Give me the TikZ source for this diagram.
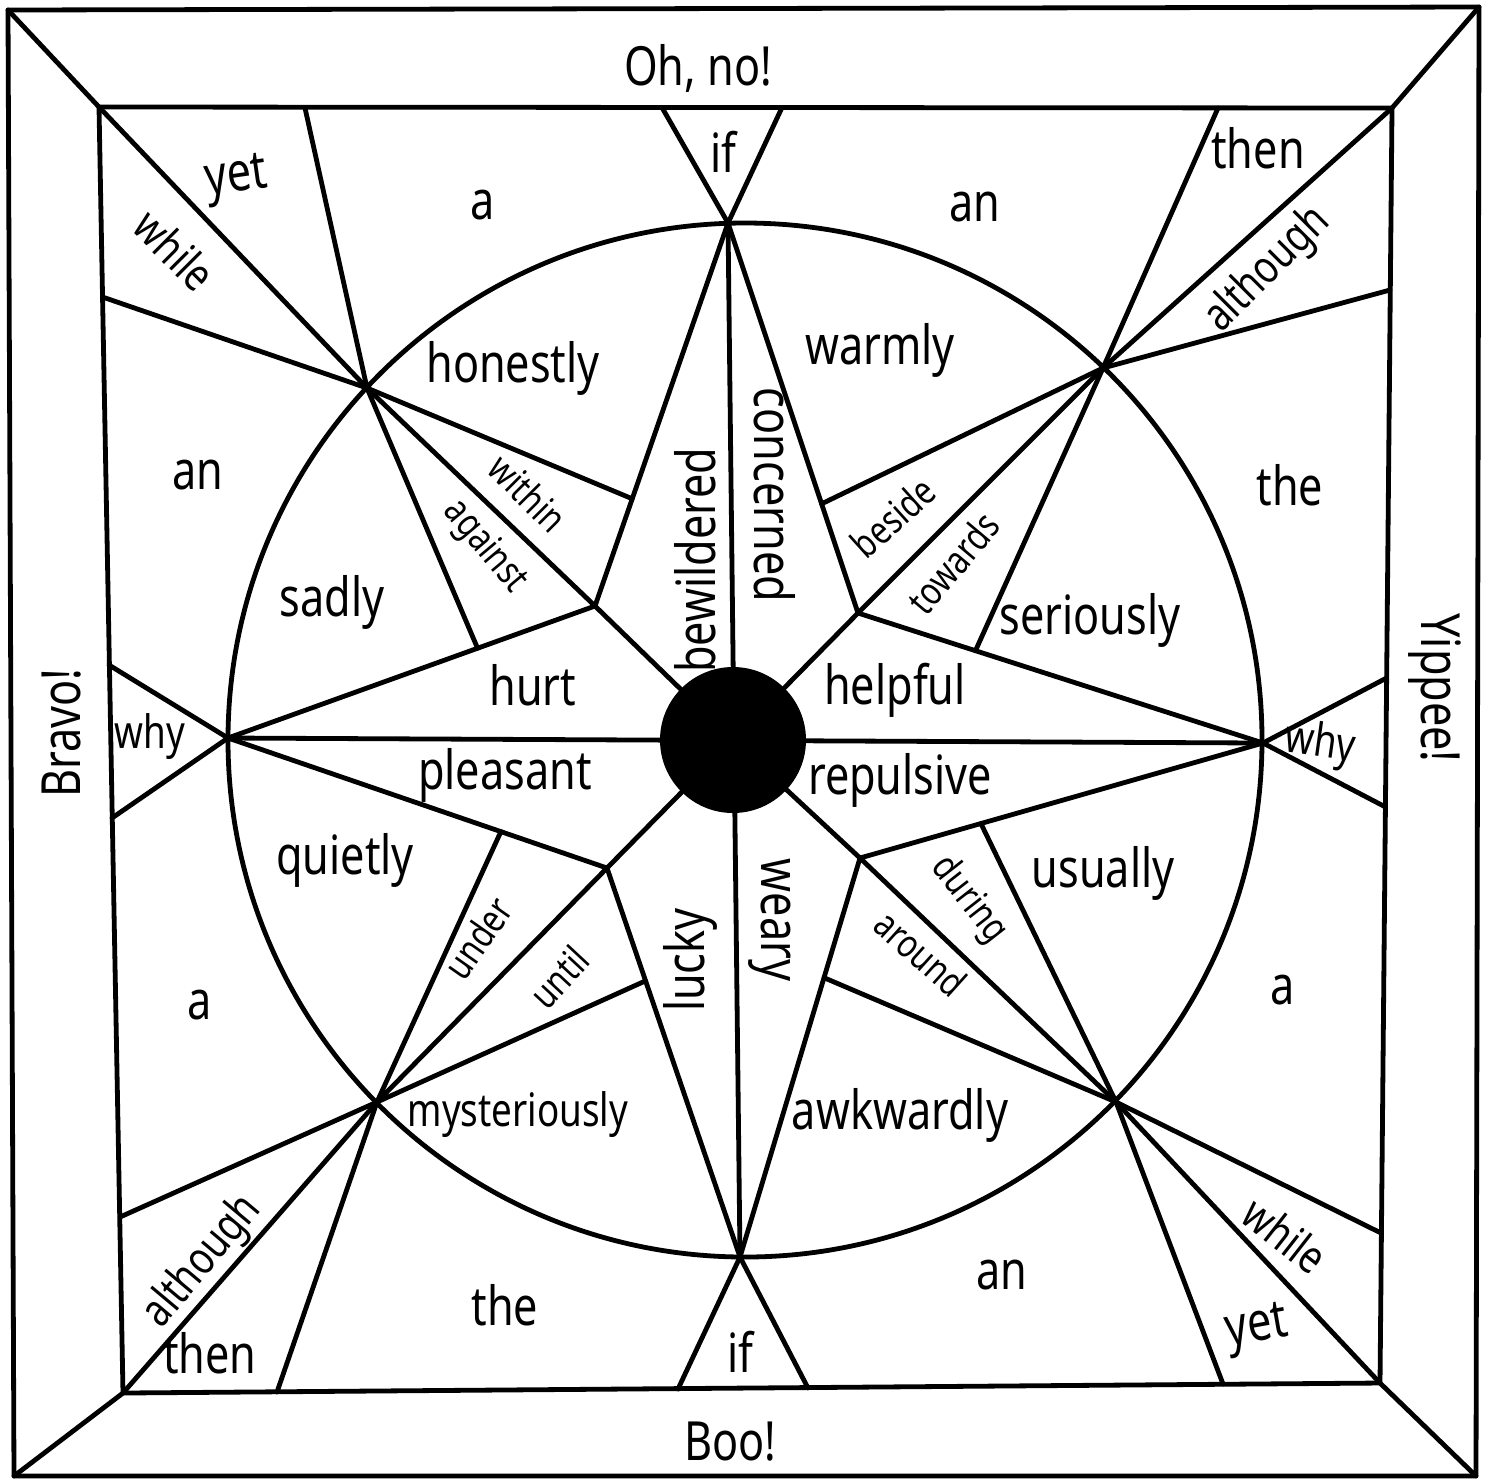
\documentclass[tikz,border=0pt]{standalone}
\usepackage{fontspec}
\usetikzlibrary{calc}
\setmainfont{Noto Sans}[FakeStretch=0.8]
\begin{document}
\begin{tikzpicture}[x=0.5pt,y=-0.5pt, line width=2.4pt, line join=round, line cap=round,
  big/.style={inner sep=0pt, font=\fontsize{27}{30}\selectfont},
  mid/.style={inner sep=0pt, font=\fontsize{23}{26}\selectfont},
  sml/.style={inner sep=0pt, font=\fontsize{19.5}{22}\selectfont}]
\fill[white] (0,0) rectangle (1492,1480);
\useasboundingbox (0,0) rectangle (1492,1480);
% squares
\coordinate (o1) at (8,10);     \coordinate (o2) at (1479,7);
\coordinate (o3) at (1476,1476); \coordinate (o4) at (14,1476);
\coordinate (i1) at (99,107);   \coordinate (i2) at (1392,108);
\coordinate (i3) at (1380,1383); \coordinate (i4) at (123,1393);
% centres
\coordinate (O) at (733,740);
\coordinate (CC) at (745,740);
% star points on the circle
\coordinate (T) at (728,223);   \coordinate (Bm) at (740,1257);
\coordinate (L) at (228,738);   \coordinate (R) at (1263,743);
\coordinate (NW) at (367,388);  \coordinate (NE) at (1103,368);
\coordinate (SE) at (1116,1102); \coordinate (SW) at (377,1102);
% inner vertices
\coordinate (A) at (595,606);   \coordinate (Bv) at (858,613);
\coordinate (C) at (607,868);   \coordinate (D) at (860,858);
% points on the inner square
\coordinate (tA) at (305,108);  \coordinate (tB) at (662,107.5);
\coordinate (tC) at (782,107.5); \coordinate (tD) at (1218,108);
\coordinate (lA) at (102.5,297); \coordinate (lB) at (109,665);
\coordinate (lC) at (112,818);  \coordinate (lD) at (120,1217);
\coordinate (rA) at (1390,290); \coordinate (rB) at (1386.5,678);
\coordinate (rC) at (1385.5,807); \coordinate (rD) at (1381,1233);
\coordinate (bA) at (277,1392); \coordinate (bB) at (678,1389);
\coordinate (bC) at (808,1388); \coordinate (bD) at (1223,1384);

% frames
\draw (o1) -- (o2) -- (o3) -- (o4) -- cycle;
\draw (i1) -- (i2) -- (i3) -- (i4) -- cycle;
\draw (o1) -- (i1); \draw (o2) -- (i2); \draw (o3) -- (i3); \draw (o4) -- (i4);
% big circle
\draw (CC) circle[radius=258.5pt];
% cross through centre
\draw (T) -- (Bm);
\draw (L) -- (R);
% star
\draw (L) -- (A) -- (T) -- (Bv) -- (R) -- (D) -- (Bm) -- (C) -- cycle;
\draw (A) -- (O); \draw (Bv) -- (O); \draw (C) -- (O); \draw (D) -- (O);
% diagonal fans inside
\draw (NW) -- ($(T)!0.72!(A)$); \draw (NW) -- (A); \draw (NW) -- ($(L)!0.68!(A)$);
\draw (NE) -- ($(T)!0.72!(Bv)$); \draw (NE) -- (Bv); \draw (NE) -- ($(R)!0.71!(Bv)$);
\draw (SE) -- ($(R)!0.70!(D)$); \draw (SE) -- (D); \draw (SE) -- ($(Bm)!0.70!(D)$);
\draw (SW) -- ($(L)!0.72!(C)$); \draw (SW) -- (C); \draw (SW) -- ($(Bm)!0.71!(C)$);
% fans outward
\draw (NW) -- (tA); \draw (NW) -- (i1); \draw (NW) -- (lA);
\draw (NE) -- (tD); \draw (NE) -- (i2); \draw (NE) -- (rA);
\draw (SE) -- (rD); \draw (SE) -- (i3); \draw (SE) -- (bD);
\draw (SW) -- (lD); \draw (SW) -- (i4); \draw (SW) -- (bA);
\draw (T) -- (tB); \draw (T) -- (tC);
\draw (Bm) -- (bB); \draw (Bm) -- (bC);
\draw (L) -- (lB); \draw (L) -- (lC);
\draw (R) -- (rB); \draw (R) -- (rC);
% centre dot
\fill (O) circle[radius=36.5pt];

% outer band texts
\node[big] (ohno) at (698,68) {Oh, no!};
\node[big] (boo) at (730,1442) {Boo!};
\node[big, rotate=90] (bravo) at (62,733) {Bravo!};
\node[big, rotate=-90] (yippee) at (1435,688) {Yippee!};
% corner / edge texts
\node[big, rotate=8] (yet1) at (237,180) {yet};
\node[mid, rotate=-45] (while1) at (175,250) {while};
\node[big] (a1) at (483,205) {a};
\node[big] (if1) at (723,152) {if};
\node[big] (an1) at (975,207) {an};
\node[big] (then1) at (1258,148) {then};
\node[mid, rotate=45] (although1) at (1268,270) {although};
\node[big] (an2) at (198,475) {an};
\node[mid] (why1) at (150,737) {why};
\node[big] (a2) at (200,1005) {a};
\node[big] (the1) at (1290,485) {the};
\node[mid, rotate=-8] (why2) at (1320,745) {why};
\node[big] (a3) at (1283,990) {a};
\node[mid, rotate=50] (although2) at (203,1262) {although};
\node[big] (then2) at (210,1353) {then};
\node[big] (the2) at (505,1305) {the};
\node[big] (if2) at (740,1352) {if};
\node[big] (an3) at (1002,1275) {an};
\node[mid, rotate=-38] (while2) at (1285,1235) {while};
\node[big, rotate=10] (yet2) at (1257,1330) {yet};
% circle texts
\node[big] (honestly) at (513,368) {honestly};
\node[big] (warmly) at (880,350) {warmly};
\node[big] (sadly) at (332,602) {sadly};
\node[big] (seriously) at (1090,620) {seriously};
\node[big] (quietly) at (345,860) {quietly};
\node[big] (usually) at (1103,873) {usually};
\node[mid] (mysteriously) at (518,1115) {mysteriously};
\node[big] (awkwardly) at (900,1115) {awkwardly};
\node[big] (hurt) at (533,685) {hurt};
\node[big] (helpful) at (895,690) {helpful};
\node[big] (pleasant) at (505,775) {pleasant};
\node[big] (repulsive) at (900,780) {repulsive};
\node[big, rotate=90] (bewildered) at (695,560) {bewildered};
\node[big, rotate=-90] (concerned) at (775,495) {concerned};
\node[big, rotate=90] (lucky) at (690,960) {lucky};
\node[big, rotate=-90] (weary) at (770,920) {weary};
% small texts
\node[sml, rotate=-45] (within) at (528,493) {within};
\node[sml, rotate=-50] (against) at (485,547) {against};
\node[sml, rotate=42] (beside) at (893,517) {beside};
\node[sml, rotate=50] (towards) at (953,563) {towards};
\node[sml, rotate=55] (under) at (478,938) {under};
\node[sml, rotate=47] (until) at (559,977) {until};
\node[sml, rotate=-52] (during) at (969,900) {during};
\node[sml, rotate=-42] (around) at (921,953) {around};
\end{tikzpicture}
\end{document}
